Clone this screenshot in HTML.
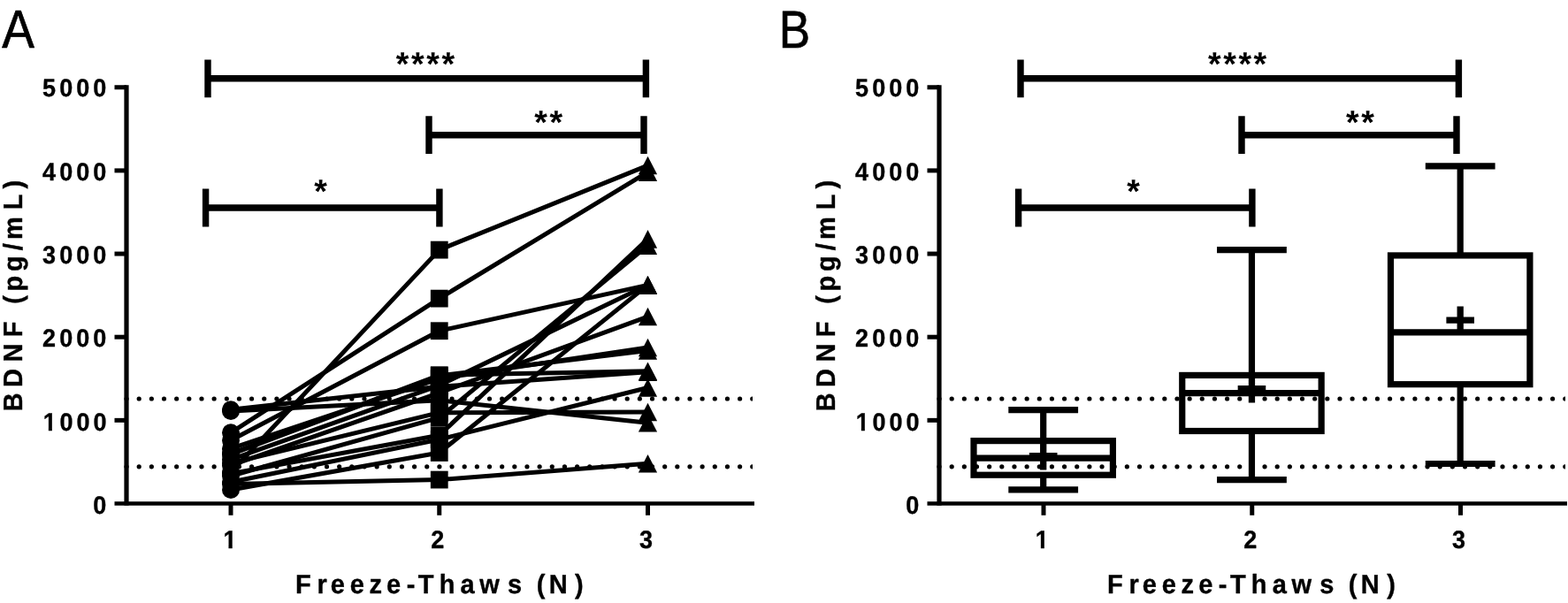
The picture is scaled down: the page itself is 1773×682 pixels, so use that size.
<!DOCTYPE html>
<html lang="en"><head><meta charset="utf-8"><title>BDNF freeze-thaw</title>
<style>
html,body{margin:0;padding:0;background:#fff;}
body{width:1773px;height:682px;overflow:hidden;}
svg{display:block;}
text{font-family:"Liberation Sans",sans-serif;fill:#000;text-rendering:geometricPrecision;}
.tk,.ti{stroke:#000;stroke-width:0.35px;stroke-linejoin:round;}
.tk{font-weight:700;font-size:27px;letter-spacing:4.0px;}
.ti{font-weight:700;font-size:29px;letter-spacing:5.7px;}
.yt{letter-spacing:6.4px;}
.as{font-weight:700;font-size:37.5px;letter-spacing:2.63px;}
.pl{font-weight:400;font-size:61px;stroke:#000;stroke-width:0.7px;stroke-linejoin:round;}
.ax path{stroke:#000;stroke-width:5.2;fill:none;}
.ax .xa{stroke-width:4.7;}
.ax .tk5{stroke-width:5;}
.dots path{stroke:#000;stroke-width:5.2;stroke-linecap:round;stroke-dasharray:0 14.154;fill:none;}
.ln path{stroke:#000;stroke-width:5.0;fill:none;stroke-linejoin:round;}
.mk *{fill:#000;}
.br path{stroke:#000;stroke-width:7.4;fill:none;}
.bx path,.bx rect{stroke:#000;stroke-width:7.2;fill:none;}
.pls path{stroke:#000;stroke-width:7.3;fill:none;}
</style></head><body>
<svg width="1773" height="682" viewBox="0 0 1773 682" role="img" aria-label="BDNF concentration versus number of freeze-thaw cycles">
<defs><clipPath id="clip0"><rect x="0" y="0" width="851.1" height="682"/></clipPath><clipPath id="nofoot"><path clip-rule="evenodd" d="M0 0H1773V682H0ZM46 483.9H54.87V488.6H46ZM58.83 483.9H66V488.6H58.83ZM250 616.9H258.5V621.6H250ZM262.68 616.9H270V621.6H262.68ZM965 483.9H973.87V488.6H965ZM977.83 483.9H985V488.6H977.83ZM1168 616.9H1176.87V621.6H1168ZM1180.83 616.9H1189V621.6H1180.83Z"/></clipPath><clipPath id="clip1"><rect x="919" y="0" width="851.1" height="682"/></clipPath></defs>
<rect width="1773" height="682" fill="#fff"/>
<text class="pl" transform="translate(2.3 53.6) scale(0.9 1)">A</text>
<text class="pl" transform="translate(880.7 53.6) scale(0.87 0.98)">B</text>
<g class="dots" clip-path="url(#clip0)"><path d="M143.05 451 H856" /><path d="M143.05 527.8 H856" /></g>
<g class="ln"><path d="M261 534.19 L496.75 282.62 L732.5 187.06" /><path d="M261 489.28 L496.75 337.61 L732.5 194.59" /><path d="M261 497.95 L496.75 374.23 L732.5 322.36" /><path d="M261 464.9 L496.75 452.75 L732.5 478.27" /><path d="M261 463.3 L496.75 437.31 L732.5 420.74" /><path d="M261 513.01 L496.75 424.23 L732.5 419.8" /><path d="M261 513.95 L496.75 424.98 L732.5 396.45" /><path d="M261 507.36 L496.75 428.27 L732.5 392.97" /><path d="M261 519.79 L496.75 435.81 L732.5 322.36" /><path d="M261 526.38 L496.75 444.28 L732.5 358.04" /><path d="M261 523.93 L496.75 466.69 L732.5 466.03" /><path d="M261 538.24 L496.75 472.43 L732.5 277.63" /><path d="M261 535.61 L496.75 492.3 L732.5 270.39" /><path d="M261 545.3 L496.75 497 L732.5 438.54" /><path d="M261 553.97 L496.75 511.97 L732.5 322.36" /><path d="M261 547.47 L496.75 542.57 L732.5 524.21" /></g>
<g class="mk"><circle cx="261" cy="534.19" r="10" /><rect x="486.85" y="272.72" width="19.8" height="19.8" /><path d="M732.5 176.76 L743.1 197.36 L721.9 197.36 Z" /><circle cx="261" cy="489.28" r="10" /><rect x="486.85" y="327.71" width="19.8" height="19.8" /><path d="M732.5 184.29 L743.1 204.89 L721.9 204.89 Z" /><circle cx="261" cy="497.95" r="10" /><rect x="486.85" y="364.33" width="19.8" height="19.8" /><path d="M732.5 312.06 L743.1 332.66 L721.9 332.66 Z" /><circle cx="261" cy="464.9" r="10" /><rect x="486.85" y="442.85" width="19.8" height="19.8" /><path d="M732.5 467.97 L743.1 488.57 L721.9 488.57 Z" /><circle cx="261" cy="463.3" r="10" /><rect x="486.85" y="427.41" width="19.8" height="19.8" /><path d="M732.5 410.44 L743.1 431.04 L721.9 431.04 Z" /><circle cx="261" cy="513.01" r="10" /><rect x="486.85" y="414.33" width="19.8" height="19.8" /><path d="M732.5 409.5 L743.1 430.1 L721.9 430.1 Z" /><circle cx="261" cy="513.95" r="10" /><rect x="486.85" y="415.08" width="19.8" height="19.8" /><path d="M732.5 386.15 L743.1 406.75 L721.9 406.75 Z" /><circle cx="261" cy="507.36" r="10" /><rect x="486.85" y="418.38" width="19.8" height="19.8" /><path d="M732.5 382.67 L743.1 403.27 L721.9 403.27 Z" /><circle cx="261" cy="519.79" r="10" /><rect x="486.85" y="425.91" width="19.8" height="19.8" /><path d="M732.5 312.06 L743.1 332.66 L721.9 332.66 Z" /><circle cx="261" cy="526.38" r="10" /><rect x="486.85" y="434.38" width="19.8" height="19.8" /><path d="M732.5 347.74 L743.1 368.34 L721.9 368.34 Z" /><circle cx="261" cy="523.93" r="10" /><rect x="486.85" y="456.79" width="19.8" height="19.8" /><path d="M732.5 455.73 L743.1 476.33 L721.9 476.33 Z" /><circle cx="261" cy="538.24" r="10" /><rect x="486.85" y="462.53" width="19.8" height="19.8" /><path d="M732.5 267.33 L743.1 287.94 L721.9 287.94 Z" /><circle cx="261" cy="535.61" r="10" /><rect x="486.85" y="482.4" width="19.8" height="19.8" /><path d="M732.5 260.09 L743.1 280.69 L721.9 280.69 Z" /><circle cx="261" cy="545.3" r="10" /><rect x="486.85" y="487.1" width="19.8" height="19.8" /><path d="M732.5 428.24 L743.1 448.84 L721.9 448.84 Z" /><circle cx="261" cy="553.97" r="10" /><rect x="486.85" y="502.07" width="19.8" height="19.8" /><path d="M732.5 312.06 L743.1 332.66 L721.9 332.66 Z" /><circle cx="261" cy="547.47" r="10" /><rect x="486.85" y="532.67" width="19.8" height="19.8" /><path d="M732.5 513.91 L743.1 534.51 L721.9 534.51 Z" /></g>
<g class="ax"><path d="M143 96.25 V571.85" /><path class="xa" d="M129.5 569.5 H853" /><path class="tk5" d="M129.5 475.35 H143" /><path class="tk5" d="M129.5 381.2 H143" /><path class="tk5" d="M129.5 287.05 H143" /><path class="tk5" d="M129.5 192.9 H143" /><path class="tk5" d="M129.5 98.75 H143" /><path class="tk5" d="M261 569.5 V582.8" /><path class="tk5" d="M496.75 569.5 V582.8" /><path class="tk5" d="M732.5 569.5 V582.8" /></g>
<g class="lb" clip-path="url(#nofoot)"><text class="tk" text-anchor="end" transform="translate(124.2 581.15) scale(1 1.05)">0</text><text class="tk" text-anchor="end" dx="0.3 -0.3 0 0" transform="translate(124.2 486.77) scale(1 1.05)">1000</text><text class="tk" text-anchor="end" transform="translate(124.2 392.39) scale(1 1.05)">2000</text><text class="tk" text-anchor="end" transform="translate(124.2 298.01) scale(1 1.05)">3000</text><text class="tk" text-anchor="end" transform="translate(124.2 203.63) scale(1 1.05)">4000</text><text class="tk" text-anchor="end" transform="translate(124.2 109.25) scale(1 1.05)">5000</text><text class="tk" text-anchor="middle" transform="translate(262 620.4) scale(1 1.05)">1</text><text class="tk" text-anchor="middle" transform="translate(496.75 620.4) scale(1 1.05)">2</text><text class="tk" text-anchor="middle" transform="translate(732.5 620.4) scale(1 1.05)">3</text><text class="ti" text-anchor="start" dx="0 1 -1.7 0.1 0 -0.6 0.7 -2.2 0.4 0.5 -0.1 3.5 0 -2.9 -1.5 2.8" transform="translate(334 671) scale(1 1.045)">Freeze-Thaws (N)</text><text class="ti yt" text-anchor="start" dx="0 0 1 1 0 -1 -2 -1.6 -0.4 -2 1.5 -0.5" transform="translate(25.4 465.3) rotate(-90) scale(1 1.045)">BDNF (pg/mL)</text></g>
<g class="br"><path d="M235 88.8 H730.4 M235 67.4 V110.2 M730.4 67.4 V110.2" /><path d="M485 152.7 H728 M485 131.3 V174.1 M728 131.3 V174.1" /><path d="M232.6 235 H496.9 M232.6 213.6 V256.4 M496.9 213.6 V256.4" /></g>
<g class="lb"><text class="as" text-anchor="middle" transform="translate(482.25 85)">****</text><text class="as" text-anchor="middle" transform="translate(621.4 150.8)">**</text><text class="as" text-anchor="middle" transform="translate(363.8 228.8)">*</text></g>
<g class="dots" clip-path="url(#clip1)"><path d="M1062.05 451 H1775" /><path d="M1062.05 527.8 H1775" /></g>
<g class="bx"><path d="M1179.7 463.58 V498.61 M1179.7 537.21 V553.97 M1140.3 463.58 H1219.1 M1140.3 553.97 H1219.1" /><rect x="1101" y="498.61" width="157.4" height="38.6" /><path d="M1101 518.09 H1258.4" /><path d="M1415.45 282.62 V424.41 M1415.45 487.5 V542.57 M1376.05 282.62 H1454.85 M1376.05 542.57 H1454.85" /><rect x="1336.75" y="424.41" width="157.4" height="63.08" /><path d="M1336.75 444.56 H1494.15" /><path d="M1651.2 187.91 V288.93 M1651.2 434.68 V524.5 M1611.8 187.91 H1690.6 M1611.8 524.5 H1690.6" /><rect x="1572.5" y="288.93" width="157.4" height="145.74" /><path d="M1572.5 375.93 H1729.9" /></g>
<g class="pls"><path d="M1163.9 515.65 H1195.5 M1179.7 499.85 V531.45" /><path d="M1399.65 439.67 H1431.25 M1415.45 423.87 V455.47" /><path d="M1635.4 362.18 H1667 M1651.2 346.38 V377.98" /></g>
<g class="ax"><path d="M1062 96.25 V571.85" /><path class="xa" d="M1048.5 569.5 H1772" /><path class="tk5" d="M1048.5 475.35 H1062" /><path class="tk5" d="M1048.5 381.2 H1062" /><path class="tk5" d="M1048.5 287.05 H1062" /><path class="tk5" d="M1048.5 192.9 H1062" /><path class="tk5" d="M1048.5 98.75 H1062" /><path class="tk5" d="M1180 569.5 V582.8" /><path class="tk5" d="M1415.75 569.5 V582.8" /><path class="tk5" d="M1651.5 569.5 V582.8" /></g>
<g class="lb" clip-path="url(#nofoot)"><text class="tk" text-anchor="end" transform="translate(1043.2 581.15) scale(1 1.05)">0</text><text class="tk" text-anchor="end" dx="0.3 -0.3 0 0" transform="translate(1043.2 486.77) scale(1 1.05)">1000</text><text class="tk" text-anchor="end" transform="translate(1043.2 392.39) scale(1 1.05)">2000</text><text class="tk" text-anchor="end" transform="translate(1043.2 298.01) scale(1 1.05)">3000</text><text class="tk" text-anchor="end" transform="translate(1043.2 203.63) scale(1 1.05)">4000</text><text class="tk" text-anchor="end" transform="translate(1043.2 109.25) scale(1 1.05)">5000</text><text class="tk" text-anchor="middle" transform="translate(1180.25 620.4) scale(1 1.05)">1</text><text class="tk" text-anchor="middle" transform="translate(1415.75 620.4) scale(1 1.05)">2</text><text class="tk" text-anchor="middle" transform="translate(1651.5 620.4) scale(1 1.05)">3</text><text class="ti" text-anchor="start" dx="0 1 -1.7 0.1 0 -0.6 0.7 -2.2 0.4 0.5 -0.1 3.5 0 -2.9 -1.5 2.8" transform="translate(1252.1 671) scale(1 1.045)">Freeze-Thaws (N)</text><text class="ti yt" text-anchor="start" dx="0 0 1 1 0 -1 -2 -1.6 -0.4 -2 1.5 -0.5" transform="translate(944.4 465.3) rotate(-90) scale(1 1.045)">BDNF (pg/mL)</text></g>
<g class="br"><path d="M1154 88.8 H1649.4 M1154 67.4 V110.2 M1649.4 67.4 V110.2" /><path d="M1404 152.7 H1647 M1404 131.3 V174.1 M1647 131.3 V174.1" /><path d="M1151.6 235 H1415.9 M1151.6 213.6 V256.4 M1415.9 213.6 V256.4" /></g>
<g class="lb"><text class="as" text-anchor="middle" transform="translate(1400.4 85)">****</text><text class="as" text-anchor="middle" transform="translate(1539.25 150.8)">**</text><text class="as" text-anchor="middle" transform="translate(1282.75 228.8)">*</text></g>
</svg></body></html>
